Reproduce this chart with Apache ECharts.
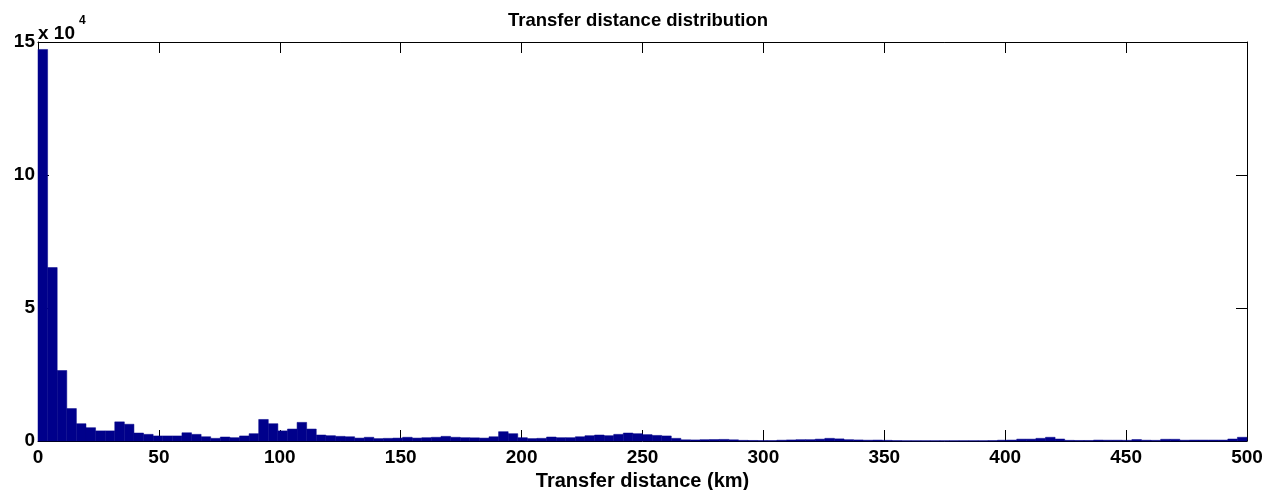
<!DOCTYPE html>
<html>
<head>
<meta charset="utf-8">
<script src="https://cdn.jsdelivr.net/npm/echarts@6/dist/echarts.min.js"></script>
<style>
  html, body { margin: 0; padding: 0; background: #fff; }
  #chart { width: 1276px; height: 490px; }
</style>
</head>
<body>
<div id="chart"></div>
<script>
// histogram of transfer distances, 126 equal bins over 0..500 km
var rangeMax = 500
var binCounts = [
  147200, 65200, 26500, 12200, 6500, 5000, 3800, 3800, 7200, 6300,
  3000, 2500, 1900, 1900, 1900, 3100, 2500, 1600, 1000, 1500,
  1250, 1900, 2750, 8100, 6500, 3800, 4500, 7000, 4500, 2250,
  2000, 1750, 1600, 1100, 1400, 900, 1000, 1100, 1400, 1100,
  1250, 1400, 1750, 1400, 1250, 1200, 1100, 1600, 3500, 2750,
  1250, 900, 1000, 1500, 1250, 1250, 1600, 2000, 2250, 2000,
  2500, 3000, 2750, 2400, 2100, 1900, 1000, 450, 400, 500,
  550, 600, 450, 250, 200, 150, 150, 300, 400, 500,
  500, 700, 1000, 800, 500, 400, 300, 350, 250, 150,
  100, 100, 100, 100, 100, 100, 100, 100, 100, 150,
  300, 350, 700, 700, 1000, 1400, 750, 250, 200, 200,
  350, 300, 300, 250, 550, 300, 250, 650, 650, 300,
  350, 350, 350, 350, 750, 1400
]
var xTicks = [0, 50, 100, 150, 200, 250, 300, 350, 400, 450, 500]

var binWidth = rangeMax / binCounts.length
var histData = binCounts.map(function (c, i) {
  return [i * binWidth, (i + 1) * binWidth, c]
})

var font = 'Liberation Sans, Arial, Helvetica, sans-serif'
var navy = '#00008b'

var chart = echarts.init(document.getElementById('chart'))

var axisCommon = {
  axisLine: { show: true, onZero: false, lineStyle: { color: '#000', width: 1 } },
  axisTick: { show: true, inside: true, length: 11, lineStyle: { color: '#000' } },
  splitLine: { show: false }
}

chart.setOption({
  animation: false,
  title: {
    text: 'Transfer distance distribution',
    left: 'center',
    top: 6,
    textStyle: { fontFamily: font, fontSize: 18.5, fontWeight: 'bold', color: '#000' }
  },
  grid: { left: 38, right: 29, top: 42, bottom: 49, outerBoundsMode: 'none', containLabel: false },
  graphic: [
    { type: 'text', left: 38, top: 24, style: { text: 'x 10', font: 'bold 19px ' + font, fill: '#000' } },
    { type: 'text', left: 79, top: 15, style: { text: '4', font: 'bold 12px ' + font, fill: '#000' } }
  ],
  xAxis: [
    Object.assign({}, axisCommon, {
      type: 'value',
      min: 0,
      max: rangeMax,
      interval: 50,
      name: 'Transfer distance (km)',
      nameLocation: 'middle',
      nameGap: 25,
      nameTextStyle: { fontFamily: font, fontSize: 20, fontWeight: 'bold', color: '#000' },
      axisLabel: {
        margin: 7,
        fontFamily: font, fontSize: 19, fontWeight: 'bold', color: '#000',
        customValues: xTicks
      }
    }),
    Object.assign({}, axisCommon, {
      type: 'value',
      position: 'top',
      min: 0,
      max: rangeMax,
      interval: 50,
      axisLabel: { show: false }
    })
  ],
  yAxis: [
    Object.assign({}, axisCommon, {
      type: 'value',
      min: 0,
      max: 150000,
      interval: 50000,
      axisLabel: {
        margin: 3,
        fontFamily: font, fontSize: 19, fontWeight: 'bold', color: '#000',
        formatter: function (v) { return v / 10000 }
      }
    }),
    Object.assign({}, axisCommon, {
      type: 'value',
      position: 'right',
      min: 0,
      max: 150000,
      interval: 50000,
      axisLabel: { show: false }
    })
  ],
  series: [{
    type: 'custom',
    xAxisIndex: 0,
    yAxisIndex: 0,
    data: histData,
    encode: { x: [0, 1], y: 2 },
    renderItem: function (params, api) {
      var topLeft = api.coord([api.value(0), api.value(2)])
      var bottomRight = api.coord([api.value(1), 0])
      return {
        type: 'rect',
        shape: {
          x: topLeft[0],
          y: topLeft[1],
          width: bottomRight[0] - topLeft[0],
          height: bottomRight[1] - topLeft[1]
        },
        style: { fill: navy, stroke: navy, lineWidth: 0.5 }
      }
    }
  }]
})
</script>
</body>
</html>
